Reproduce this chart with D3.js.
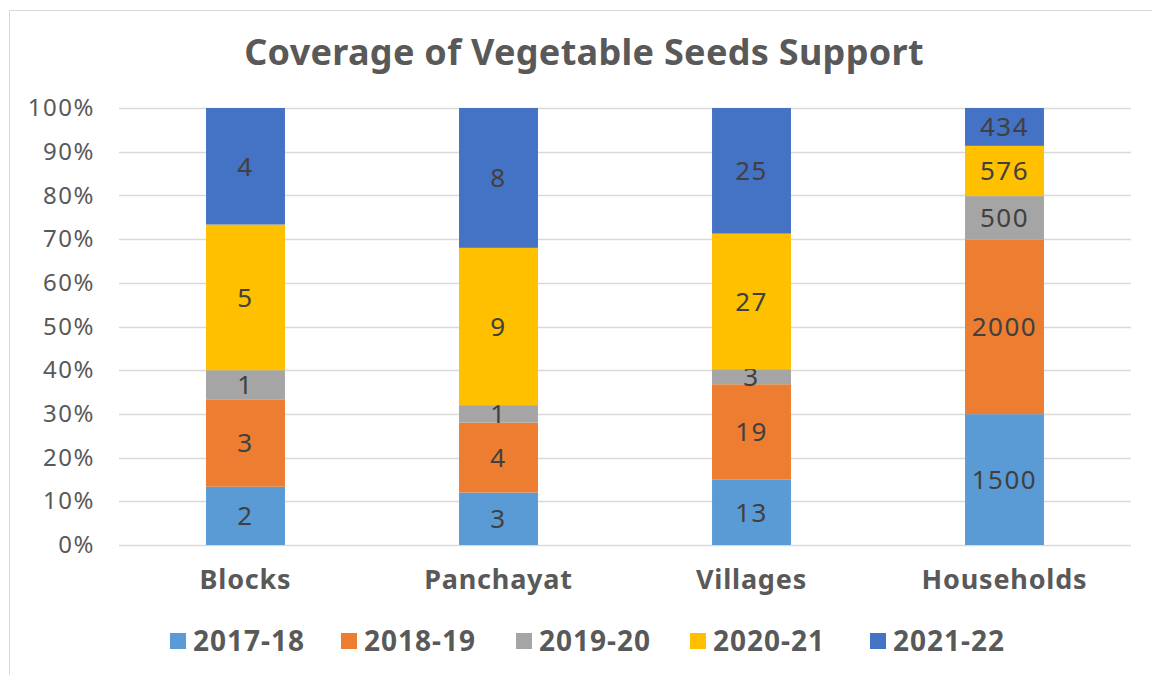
<!DOCTYPE html>
<html><head><meta charset="utf-8">
<script src="https://cdn.jsdelivr.net/npm/d3@7"></script>
<style>body{margin:0;background:#fff}svg{display:block}</style>
</head><body>
<svg id="chart" width="1152" height="675"></svg>
<script>
const categories = ["Blocks", "Panchayat", "Villages", "Households"];
const seriesNames = ["2017-18", "2018-19", "2019-20", "2020-21", "2021-22"];
const v2017 = [2, 3, 13, 1500];
const v2018 = [3, 4, 19, 2000];
const v2019 = [1, 1, 3, 500];
const v2020 = [5, 9, 27, 576];
const v2021 = [4, 8, 25, 434];
const colors = ["#5b9bd5", "#ed7d31", "#a5a5a5", "#ffc000", "#4472c4"];
const yTicks = [0, 0.1, 0.2, 0.3, 0.4, 0.5, 0.6, 0.7, 0.8, 0.9, 1.0];
const title = "Coverage of Vegetable Seeds Support";

const seriesVals = [v2017, v2018, v2019, v2020, v2021];
const rows = categories.map((c, i) => {
  const r = {cat: c};
  seriesNames.forEach((s, j) => r[s] = seriesVals[j][i]);
  return r;
});
const stack = d3.stack().keys(seriesNames).offset(d3.stackOffsetExpand);
const stacked = stack(rows);

const FONT = "'Noto Sans', sans-serif";
const svg = d3.select("#chart");
svg.append("rect").attr("x", 9.5).attr("y", 10.5).attr("width", 1160).attr("height", 700)
  .attr("fill", "#fff").attr("stroke", "#d9d9d9").attr("stroke-width", 1);

const x = d3.scaleBand().domain(categories).range([119, 1131]).paddingInner(0.688).paddingOuter(0.344);
const y = d3.scaleLinear().domain([0, 1]).range([545, 108]);

// gridlines
svg.append("g").selectAll("line").data(yTicks).join("line")
  .attr("x1", 119).attr("x2", 1131)
  .attr("y1", d => Math.round(y(d)) + 0.5).attr("y2", d => Math.round(y(d)) + 0.5)
  .attr("stroke", "#d9d9d9").attr("stroke-width", 1.5);

// y axis labels
const yAxis = d3.axisLeft(y).tickValues(yTicks).tickFormat(d3.format(".0%")).tickSize(0).tickPadding(0);
const ya = svg.append("g").attr("transform", "translate(95,0)").call(yAxis);
ya.select(".domain").remove();
ya.selectAll("text").attr("font-family", FONT).attr("font-size", 24).attr("letter-spacing", 1.5).attr("fill", "#595959");

// bars
const g = svg.append("g");
stacked.forEach((s, j) => {
  g.selectAll(null).data(s).join("rect")
    .attr("x", d => x(d.data.cat)).attr("width", x.bandwidth())
    .attr("y", d => y(d[1])).attr("height", d => y(d[0]) - y(d[1]))
    .attr("fill", colors[j]);
  g.selectAll(null).data(s).join("text")
    .attr("x", d => x(d.data.cat) + x.bandwidth() / 2)
    .attr("y", d => (y(d[0]) + y(d[1])) / 2)
    .attr("dy", "0.36em").attr("text-anchor", "middle")
    .attr("font-family", FONT).attr("font-size", 26).attr("letter-spacing", 1.5).attr("fill", "#404040")
    .text(d => d.data[s.key]);
});

// x axis labels
const xAxis = d3.axisBottom(x).tickSize(0).tickPadding(0);
const xa = svg.append("g").attr("transform", "translate(0,570)").call(xAxis);
xa.select(".domain").remove();
xa.selectAll("text").attr("font-family", FONT).attr("font-size", 27).attr("letter-spacing", 0.8).attr("font-weight", "bold").attr("fill", "#595959");

// title
svg.append("text").attr("x", 584).attr("y", 65).attr("text-anchor", "middle")
  .attr("font-family", FONT).attr("font-size", 36).attr("letter-spacing", 0.3).attr("font-weight", "bold").attr("fill", "#595959")
  .text(title);

// legend
const legX = [170, 341, 516, 690, 870];
const leg = svg.append("g").selectAll("g").data(seriesNames).join("g")
  .attr("transform", (d, i) => `translate(${legX[i]},633)`);
leg.append("rect").attr("width", 16).attr("height", 16).attr("fill", (d, i) => colors[i]);
leg.append("text").attr("x", 23).attr("y", 8).attr("dy", "0.36em")
  .attr("font-family", FONT).attr("font-size", 28).attr("letter-spacing", 1).attr("font-weight", "bold").attr("fill", "#595959")
  .text(d => d);
</script>
</body></html>
